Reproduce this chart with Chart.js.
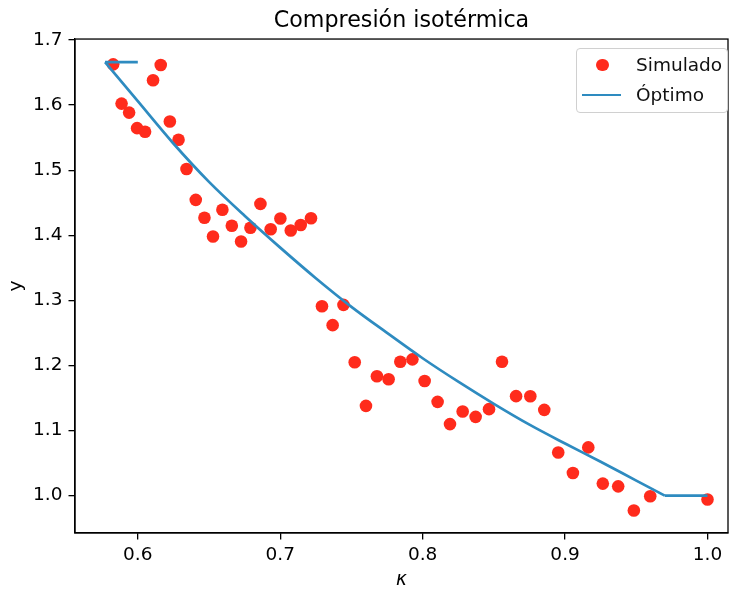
<!DOCTYPE html>
<html lang="es">
<head>
    <meta charset="UTF-8">
    <title>Compresión isotérmica</title>
    <script src="https://cdn.jsdelivr.net/npm/chart.js@4.4.1/dist/chart.umd.min.js"></script>
    <style>
        body {
            margin: 0;
            background: #fff;
            font-family: "DejaVu Sans", sans-serif;
        }
        .wrap {
            position: relative;
            width: 730px;
            height: 592px;
        }
        .legend {
            position: absolute;
            box-sizing: border-box;
            left: 576px;
            top: 48px;
            width: 152px;
            height: 65px;
            border: 1px solid #d0d0d0;
            border-radius: 4px;
            background: rgba(255, 255, 255, 0.8);
            font-size: 18.5px;
            color: #111;
        }
        .legend .row {
            position: absolute;
            left: 0;
            right: 0;
            height: 22px;
            line-height: 22px;
        }
        .legend .txt {
            position: absolute;
            left: 59px;
            white-space: nowrap;
        }
        .legend .dot {
            position: absolute;
            left: 19px;
            top: 5px;
            width: 12.6px;
            height: 12.6px;
            border-radius: 50%;
            background: #ff2b1c;
        }
        .legend .ln {
            position: absolute;
            left: 5px;
            top: 10px;
            width: 39px;
            height: 2.6px;
            background: #2e8bc0;
        }
    </style>
</head>
<body>
<div class="wrap">
    <canvas id="chart" width="730" height="592"></canvas>
    <div class="legend">
        <div class="row" style="top:4.5px"><span class="dot"></span><span class="txt">Simulado</span></div>
        <div class="row" style="top:34.5px"><span class="ln"></span><span class="txt">Óptimo</span></div>
    </div>
</div>

<script>
    // Simulated points (kappa, y)
    const simKappa = [0.5827, 0.5886, 0.5939, 0.5995, 0.6051, 0.6107, 0.6161, 0.6225, 0.6286, 0.6342,
        0.6407, 0.6468, 0.6528, 0.6594, 0.6660, 0.6725, 0.6791, 0.6861, 0.6933, 0.7001,
        0.7074, 0.7144, 0.7216, 0.7293, 0.7368, 0.7444, 0.7523, 0.7602, 0.7679, 0.7761,
        0.7843, 0.7928, 0.8014, 0.8105, 0.8192, 0.8281, 0.8372, 0.8466, 0.8557, 0.8656,
        0.8756, 0.8854, 0.8952, 0.9055, 0.9163, 0.9265, 0.9373, 0.9483, 0.9598, 1.0000];
    const simY = [1.6626, 1.6023, 1.5885, 1.5646, 1.5590, 1.6381, 1.6616, 1.5747, 1.5467, 1.5018,
        1.4544, 1.4268, 1.3982, 1.4391, 1.4145, 1.3905, 1.4115, 1.4482, 1.4093, 1.4257,
        1.4074, 1.4158, 1.4262, 1.2910, 1.2619, 1.2930, 1.2048, 1.1378, 1.1833, 1.1787,
        1.2057, 1.2093, 1.1761, 1.1440, 1.1098, 1.1291, 1.1210, 1.1328, 1.2057, 1.1528,
        1.1527, 1.1317, 1.0663, 1.0348, 1.0740, 1.0184, 1.0142, 0.9770, 0.9989, 0.9939];

    // Optimal curve
    const optKappa = [0.577, 0.600, 0.625, 0.650, 0.675, 0.700, 0.725, 0.750, 0.775,
        0.800, 0.825, 0.850, 0.875, 0.900, 0.925, 0.950, 0.970];
    const optY = [1.666, 1.606, 1.541, 1.482, 1.430, 1.381, 1.334, 1.290, 1.250,
        1.211, 1.175, 1.141, 1.109, 1.080, 1.052, 1.023, 1.000];
    // flat pieces of the optimum at both ends (null = gap)
    const flatKappa = [0.577, 0.600, null, 0.970, 1.000];
    const flatY = [1.666, 1.666, null, 1.000, 1.000];

    const xTicks = [0.6, 0.7, 0.8, 0.9, 1.0];
    const xTickLabels = ['0.6', '0.7', '0.8', '0.9', '1.0'];
    const yTicks = [1.0, 1.1, 1.2, 1.3, 1.4, 1.5, 1.6, 1.7];
    const yTickLabels = ['1.0', '1.1', '1.2', '1.3', '1.4', '1.5', '1.6', '1.7'];

    const toPoints = (xs, ys) => xs.map((x, i) => ({x: x, y: ys[i]}));

    const font = {family: '"DejaVu Sans", sans-serif', size: 18.5};
    const blue = '#2e8bc0';
    const red = '#ff2b1c';

    // matplotlib-like box around the axes
    const frame = {
        id: 'frame',
        afterDraw(chart) {
            const a = chart.chartArea;
            const c = chart.ctx;
            c.save();
            c.strokeStyle = '#000';
            c.lineWidth = 1.3;
            c.strokeRect(a.left, a.top, a.right - a.left, a.bottom - a.top);
            c.restore();
        }
    };

    new Chart(document.getElementById('chart'), {
        type: 'scatter',
        data: {
            datasets: [{
                label: 'Óptimo',
                data: toPoints(optKappa, optY),
                showLine: true,
                borderColor: blue,
                borderWidth: 2.7,
                pointRadius: 0,
                cubicInterpolationMode: 'monotone',
                order: 0
            }, {
                label: 'Óptimo (tramos planos)',
                data: toPoints(flatKappa, flatY),
                showLine: true,
                spanGaps: false,
                borderColor: blue,
                borderWidth: 2.7,
                pointRadius: 0,
                tension: 0,
                order: 0
            }, {
                label: 'Simulado',
                data: toPoints(simKappa, simY),
                backgroundColor: red,
                borderWidth: 0,
                pointRadius: 6.3,
                order: 1
            }]
        },
        options: {
            responsive: false,
            animation: false,
            layout: {autoPadding: false, padding: {left: 0, right: 2, top: 0, bottom: 0}},
            plugins: {
                legend: {display: false},
                tooltip: {enabled: false},
                title: {
                    display: true,
                    text: 'Compresión isotérmica',
                    fullSize: false,
                    color: '#000',
                    font: {family: font.family, size: 22.2, weight: 'normal'},
                    padding: {top: 8, bottom: 4.4}
                }
            },
            scales: {
                x: {
                    type: 'linear',
                    min: 0.5559,
                    max: 1.0144,
                    afterBuildTicks: s => { s.ticks = xTicks.map(v => ({value: v})); },
                    afterFit: s => { s.height = 59; s.paddingLeft = 0; s.paddingRight = 0; },
                    ticks: {
                        color: '#000',
                        font: font,
                        padding: 5,
                        maxRotation: 0,
                        callback: (v, i) => xTickLabels[i]
                    },
                    grid: {drawOnChartArea: false, drawTicks: true, tickLength: 6.5, color: '#000', lineWidth: 1.3},
                    border: {display: true, color: '#000', width: 1.3},
                    title: {
                        display: true,
                        text: 'κ',
                        color: '#000',
                        font: {family: font.family, size: 18.5, style: 'italic'},
                        padding: {top: 0, bottom: 0.5}
                    }
                },
                y: {
                    type: 'linear',
                    min: 0.9425,
                    max: 1.7015,
                    afterBuildTicks: s => { s.ticks = yTicks.map(v => ({value: v})); },
                    afterFit: s => { s.width = 75; s.paddingTop = 0; s.paddingBottom = 0; },
                    ticks: {
                        color: '#000',
                        font: font,
                        padding: 6,
                        callback: (v, i) => yTickLabels[i]
                    },
                    grid: {drawOnChartArea: false, drawTicks: true, tickLength: 6.5, color: '#000', lineWidth: 1.3},
                    border: {display: true, color: '#000', width: 1.3},
                    title: {
                        display: true,
                        text: 'y',
                        color: '#000',
                        font: font,
                        padding: {top: 5, bottom: 0}
                    }
                }
            }
        },
        plugins: [frame]
    });
</script>
</body>
</html>
